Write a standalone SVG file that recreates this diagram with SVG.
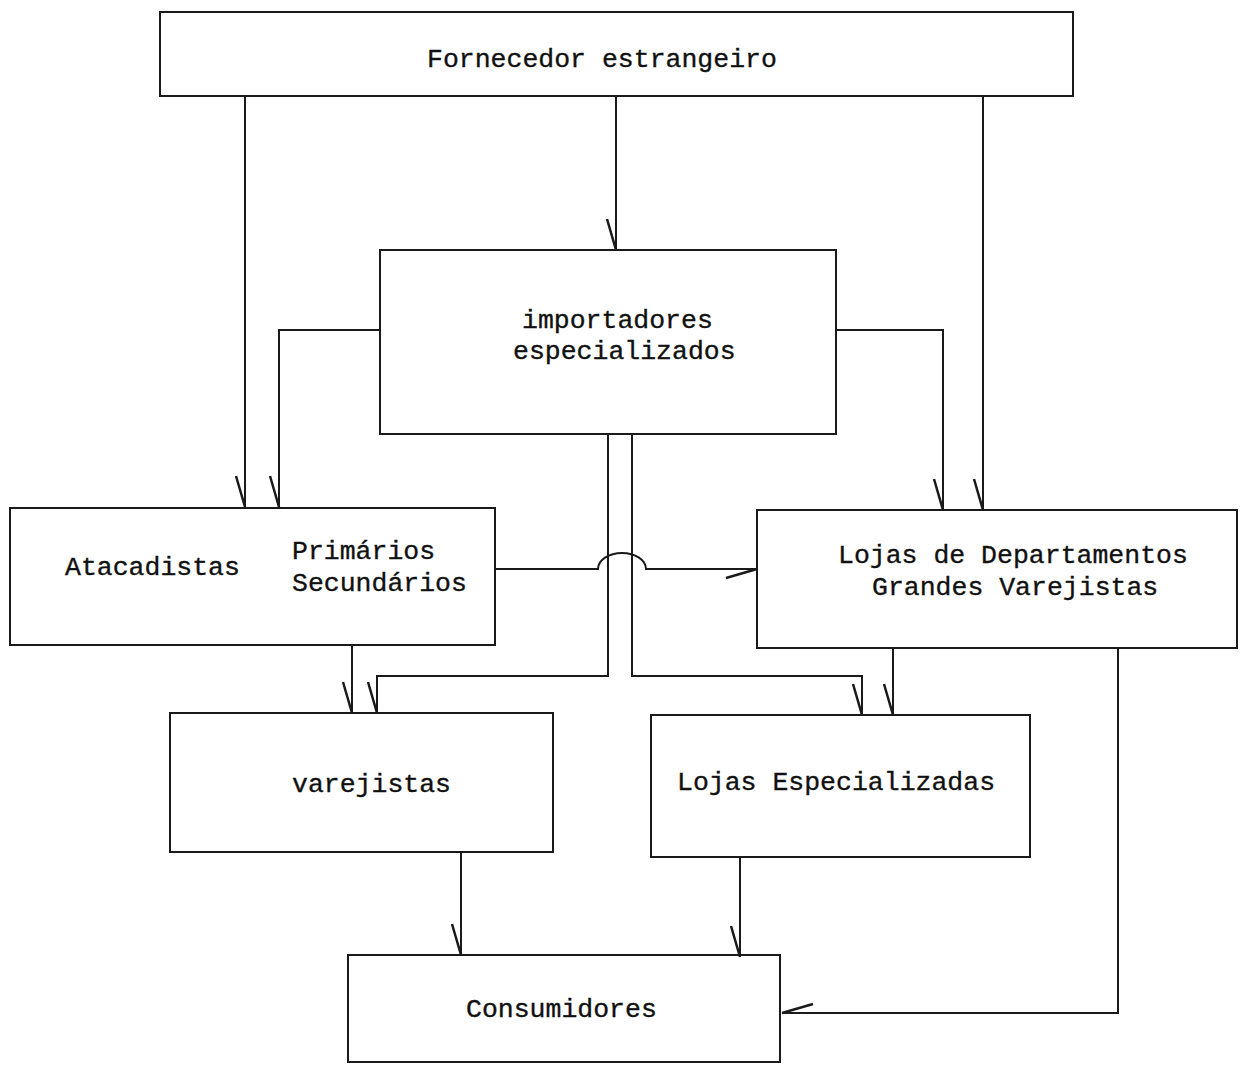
<svg xmlns="http://www.w3.org/2000/svg" width="1242" height="1065" viewBox="0 0 1242 1065">
<style>
.box{fill:none;stroke:#1a1a1a;stroke-width:2}
.lbl{font-family:"Liberation Mono","DejaVu Sans Mono",monospace;font-size:26.5px;fill:#111;stroke:#111;stroke-width:0.35}
.con{fill:none;stroke:#1a1a1a;stroke-width:2}
</style>
<defs>
<marker id="barb" markerUnits="userSpaceOnUse" markerWidth="50" markerHeight="50" viewBox="-40 -25 50 50" refX="0" refY="0" orient="auto" overflow="visible">
<path d="M-31,9 L0,0" stroke="#1a1a1a" stroke-width="2.5" fill="none"/>
</marker>
</defs>
<rect width="1242" height="1065" fill="#fff"/>
<g id="connectors">
<path class="con" d="M245,95 V507" marker-end="url(#barb)"/>
<path class="con" d="M380,330 H279 V507" marker-end="url(#barb)"/>
<path class="con" d="M616,95 V250" marker-end="url(#barb)"/>
<path class="con" d="M983,95 V510" marker-end="url(#barb)"/>
<path class="con" d="M836,330 H943 V510" marker-end="url(#barb)"/>
<path class="con" d="M495,569 H598 A24 16 0 0 1 646,569 H757" marker-end="url(#barb)"/>
<path class="con" d="M352,645 V713" marker-end="url(#barb)"/>
<path class="con" d="M608,433 V676 H377 V713" marker-end="url(#barb)"/>
<path class="con" d="M632,433 V676 H862 V715" marker-end="url(#barb)"/>
<path class="con" d="M893,648 V715" marker-end="url(#barb)"/>
<path class="con" d="M461,852 V955" marker-end="url(#barb)"/>
<path class="con" d="M740,857 V957" marker-end="url(#barb)"/>
<path class="con" d="M1118,648 V1013 H782" marker-end="url(#barb)"/>
</g>
<g id="fornecedor">
<rect class="box" x="160" y="12" width="913" height="84"/>
<text class="lbl" x="427" y="67">Fornecedor estrangeiro</text>
</g>
<g id="importadores">
<rect class="box" x="380" y="250" width="456" height="184"/>
<text class="lbl" x="522" y="328">importadores</text>
<text class="lbl" x="513" y="359">especializados</text>
</g>
<g id="atacadistas">
<rect class="box" x="10" y="508" width="485" height="137"/>
<text class="lbl" x="65" y="575">Atacadistas</text>
<text class="lbl" x="292" y="559">Primários</text>
<text class="lbl" x="292" y="591">Secundários</text>
</g>
<g id="lojas-departamentos">
<rect class="box" x="757" y="510" width="480" height="138"/>
<text class="lbl" x="838" y="563">Lojas de Departamentos</text>
<text class="lbl" x="872" y="595">Grandes Varejistas</text>
</g>
<g id="varejistas">
<rect class="box" x="170" y="713" width="383" height="139"/>
<text class="lbl" x="292" y="792">varejistas</text>
</g>
<g id="lojas-especializadas">
<rect class="box" x="651" y="715" width="379" height="142"/>
<text class="lbl" x="677" y="790">Lojas Especializadas</text>
</g>
<g id="consumidores">
<rect class="box" x="348" y="955" width="432" height="107"/>
<text class="lbl" x="466" y="1017">Consumidores</text>
</g>
</svg>
